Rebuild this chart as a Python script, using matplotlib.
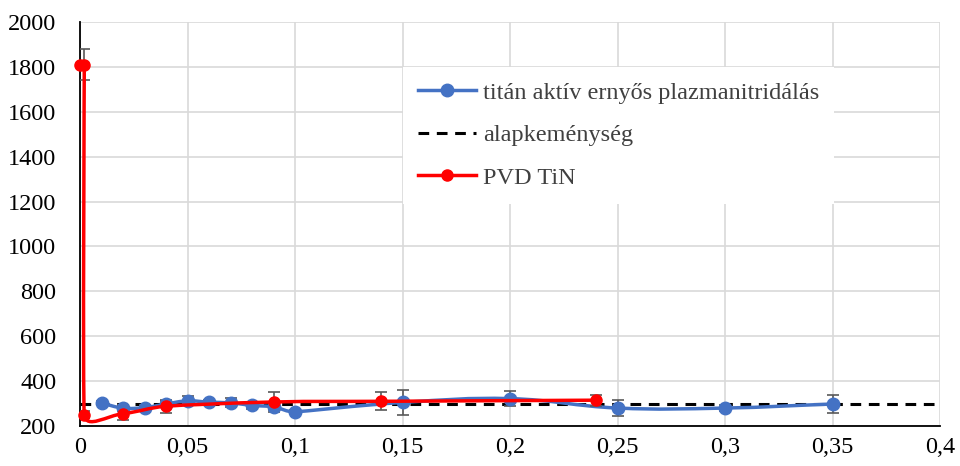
import numpy as np
import matplotlib
matplotlib.use('Agg')
import matplotlib.pyplot as plt
from matplotlib.path import Path
from matplotlib.patches import PathPatch
from matplotlib.lines import Line2D

plt.rcParams['font.family'] = ['Liberation Serif', 'DejaVu Serif']

# ── Data ──
ti_x = [0.01, 0.02, 0.03, 0.04, 0.05, 0.06, 0.07, 0.08, 0.09, 0.10, 0.15, 0.20, 0.25, 0.30, 0.35]
ti_y = [302, 280, 282, 298, 312, 306, 303, 292, 285, 263, 305, 322, 280, 280, 298]
ti_err = [10, 12, 10, 15, 20, 10, 20, 15, 15, 10, 55, 35, 35, 15, 40]

pvd_x = [0.0, 0.002, 0.002, 0.02, 0.04, 0.09, 0.14, 0.24]
pvd_y = [1810, 1810, 250, 255, 288, 307, 310, 315]
pvd_err = [0, 70, 15, 30, 30, 45, 40, 25]

base_y = 300
x_lim = (0, 0.4)
y_lim = (200, 2000)

BLUE = '#4472C4'
RED = '#FF0000'
ERR = '#595959'


def smooth_path(xs, ys, sx, sy, k=0.4):
    """Excel-like smoothed line as cubic Bezier segments (computed in pixel scale)."""
    p = np.column_stack([np.asarray(xs) * sx, np.asarray(ys) * sy])
    n = len(p)
    seglen = np.linalg.norm(np.diff(p, axis=0), axis=1)
    verts = [p[0]]
    codes = [Path.MOVETO]
    for i in range(n - 1):
        a, b = p[i], p[i + 1]
        d0 = (p[i + 1] - p[i - 1]) if i > 0 else (b - a)
        d1 = (p[i + 2] - p[i]) if i + 2 < n else (b - a)
        u0 = d0 / (np.linalg.norm(d0) or 1)
        u1 = d1 / (np.linalg.norm(d1) or 1)
        l0 = min(seglen[i], seglen[i - 1]) if i > 0 else seglen[i]
        l1 = min(seglen[i], seglen[i + 1]) if i + 1 < n - 1 else seglen[i]
        c1 = a + u0 * l0 * k
        c2 = b - u1 * l1 * k
        verts += [c1, c2, b]
        codes += [Path.CURVE4] * 3
    verts = np.array(verts)
    verts[:, 0] /= sx
    verts[:, 1] /= sy
    return Path(verts, codes)


fig = plt.figure(figsize=(9.6, 4.66), dpi=100)
ax = fig.add_axes([80 / 960, 40 / 466, 860 / 960, 404 / 466])
ax.set_xlim(*x_lim)
ax.set_ylim(*y_lim)

sx = 860 / (x_lim[1] - x_lim[0])
sy = 404 / (y_lim[1] - y_lim[0])

# grid
ax.set_xticks(np.arange(0, 0.401, 0.05))
ax.set_yticks(np.arange(200, 2001, 200))
ax.grid(True, color='#d9d9d9', linewidth=1.2, zorder=0)
ax.set_axisbelow(True)
for s in ['top', 'right']:
    ax.spines[s].set_visible(False)
for s in ['left', 'bottom']:
    ax.spines[s].set_color('black')
    ax.spines[s].set_linewidth(1.3)
ax.tick_params(axis='y', length=0, labelsize=17.5, pad=17)
ax.tick_params(axis='x', length=0, labelsize=17.5, pad=8)
ax.set_xticklabels(['0', '0,05', '0,1', '0,15', '0,2', '0,25', '0,3', '0,35', '0,4'])
ax.set_yticklabels([str(v) for v in range(200, 2001, 200)])

# base hardness
ax.axhline(base_y, color='black', linestyle=(0, (3.5, 2.5)), linewidth=2.2, zorder=3)

# titan series
ax.add_patch(PathPatch(smooth_path(ti_x, ti_y, sx, sy), fill=False, edgecolor=BLUE,
                       linewidth=2.5, zorder=4))
ax.errorbar(ti_x, ti_y, yerr=ti_err, fmt='none', ecolor=ERR, elinewidth=1.2,
            capsize=4, capthick=1.2, zorder=5)
ax.plot(ti_x, ti_y, 'o', color=BLUE, markersize=9, zorder=6)

# PVD TiN series
ax.add_patch(PathPatch(smooth_path(pvd_x, pvd_y, sx, sy), fill=False, edgecolor=RED,
                       linewidth=2.5, zorder=7))
ax.errorbar(pvd_x, pvd_y, yerr=pvd_err, fmt='none', ecolor=ERR, elinewidth=1.2,
            capsize=4, capthick=1.2, zorder=5)
ax.plot(pvd_x, pvd_y, 'o', color=RED, markersize=8, zorder=8, clip_on=False)

handles = [
    Line2D([], [], color=BLUE, linewidth=2.5, marker='o', markersize=9),
    Line2D([], [], color='black', linestyle=(0, (3.5, 2.5)), linewidth=2.2),
    Line2D([], [], color=RED, linewidth=2.5, marker='o', markersize=8),
]
labels = ['titán aktív ernyős plazmanitridálás', 'alapkeménység', 'PVD TiN']
leg = ax.legend(handles, labels, loc='upper left', bbox_to_anchor=(0.3756, 0.8886),
                frameon=True, fancybox=False, edgecolor='none', facecolor='white',
                framealpha=1, fontsize=17.5, handlelength=2.4, labelspacing=0.85,
                borderpad=0.6, handletextpad=0.3, borderaxespad=0)
for t in leg.get_texts():
    t.set_color('#404040')

fig.savefig('out.png', dpi=100)
